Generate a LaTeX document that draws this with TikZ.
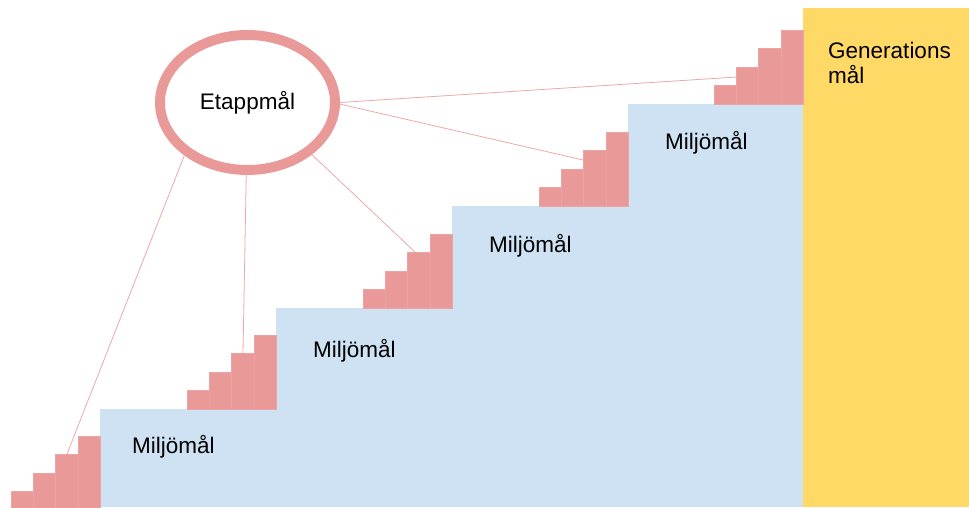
\documentclass[tikz,border=0pt]{standalone}
\usepackage{fontspec}
\setmainfont{Liberation Sans}
\usetikzlibrary{shapes.geometric}

\definecolor{stairpink}{HTML}{EA9999}
\definecolor{stepblue}{HTML}{CFE2F3}
\definecolor{goalyellow}{HTML}{FFD966}

\tikzset{
  stair/.style={fill=stairpink, draw=stairpink!90!white, line width=0.4pt},
  link/.style={draw=stairpink!85!white, line width=0.8pt},
  goaltext/.style={font=\fontsize{22.5}{25.5}\selectfont, inner sep=0pt}
}

\begin{document}
\begin{tikzpicture}[x=1pt,y=1pt]
        \useasboundingbox (0,0) rectangle (969,507);
        % Generationsmal column
        \fill[goalyellow] (803,0) rectangle (969,499);
        % Big steps
        \foreach \x/\y in {100/98, 276/199, 452/301, 628/403}
            \fill[stepblue] (\x,0) rectangle (803,\y);
        % Etappmal ellipse
        \node[ellipse, draw=stairpink, line width=10pt, minimum width=175pt,
              minimum height=135pt, goaltext] (etapp) at (247.5,404.5) {Etappmål};
        % Lines to the small stairs
        \coordinate (s1) at (67,53);
        \coordinate (s2) at (243,154);
        \coordinate (s3) at (415,255);
        \coordinate (s4) at (583,347);
        \coordinate (s5) at (737,430);
        \draw[link] (etapp.220) -- (s1);
        \draw[link] (etapp.269) -- (s2);
        \draw[link] (etapp.321) -- (s3);
        \draw[link] (etapp.-1) -- (s4);
        \draw[link] (etapp.east) -- (s5);
        % Small stairs (right edge / base)
        \foreach \r/\b in {100/-3, 276/98, 452/199, 628/301, 803/403}
            \foreach \k in {1,...,4}
                \draw[stair] ({\r-89+22.25*(\k-1)},\b) rectangle (\r,{\b+18.5*\k});
        % Labels
        \node[goaltext, anchor=base west] (m1) at (132,54) {Miljömål};
        \node[goaltext, anchor=base west] (m2) at (313,150) {Miljömål};
        \node[goaltext, anchor=base west] (m3) at (489,255) {Miljömål};
        \node[goaltext, anchor=base west] (m4) at (665,357) {Miljömål};
        \node[goaltext, anchor=north west, align=left] (gen) at (828,465.5) {Generations\\mål};
\end{tikzpicture}
\end{document}
